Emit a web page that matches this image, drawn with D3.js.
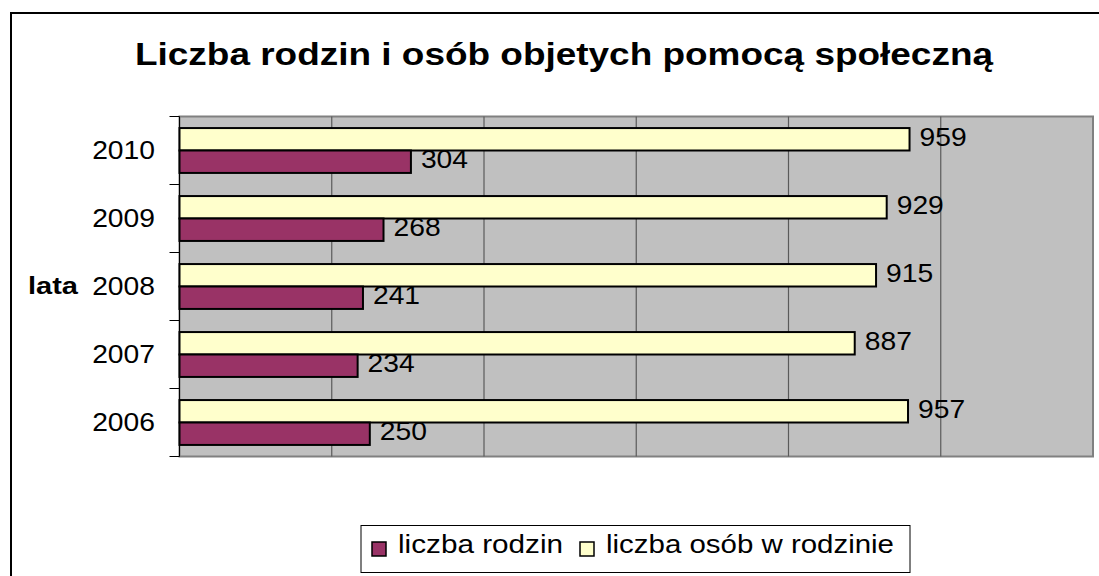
<!DOCTYPE html>
<html>
<head>
<meta charset="utf-8">
<script src="https://cdn.jsdelivr.net/npm/d3@7"></script>
<style>
  body { margin: 0; background: #fff; }
  svg { font-family: "Liberation Sans", Arial, sans-serif; }
</style>
</head>
<body>
<svg id="chart" width="1099" height="576"></svg>
<script>
const years = ["2006", "2007", "2008", "2009", "2010"];
const rodziny = [250, 234, 241, 268, 304];
const osoby = [957, 887, 915, 929, 959];
const seriesNames = ["liczba osób w rodzinie", "liczba rodzin"];
const seriesColors = ["#FFFFCC", "#993366"];
const xMax = 1200;

const data = years.map((y, i) => ({ year: y, values: [osoby[i], rodziny[i]] }));

const svg = d3.select("#chart");

// tekst w Excelu jest trochę szerszy - rozciągamy
function stretch(sel, f) {
  sel.each(function () {
    const w = this.getComputedTextLength();
    d3.select(this).attr("textLength", w * f).attr("lengthAdjust", "spacingAndGlyphs");
  });
}

// ramka całego wykresu
svg.append("rect")
  .attr("x", 11).attr("y", 13)
  .attr("width", 1110).attr("height", 600)
  .attr("fill", "#fff")
  .attr("stroke", "#000")
  .attr("stroke-width", 2);

svg.append("text")
  .attr("x", 564).attr("y", 65)
  .attr("text-anchor", "middle")
  .style("font-size", "31px")
  .style("font-weight", "bold")
  .attr("textLength", 858)
  .attr("lengthAdjust", "spacingAndGlyphs")
  .text("Liczba rodzin i osób objetych pomocą społeczną");

const plotL = 179.5, plotR = 1093, plotT = 116.5, plotB = 456.5;

const x = d3.scaleLinear().domain([0, xMax]).range([plotL, plotR]);
const y = d3.scaleBand()
  .domain(years.slice().reverse())
  .range([plotT, plotB])
  .paddingInner(0.34)
  .paddingOuter(0.17);
const band = d3.scaleBand()
  .domain(years.slice().reverse())
  .range([plotT, plotB]);
const ySub = d3.scaleBand().domain([0, 1]).range([0, y.bandwidth()]);

// tło obszaru kreślenia
svg.append("rect")
  .attr("x", plotL).attr("y", plotT)
  .attr("width", plotR - plotL).attr("height", plotB - plotT)
  .attr("fill", "#C0C0C0")
  .attr("stroke", "#808080")
  .attr("stroke-width", 2);

// linie siatki
svg.append("g")
  .selectAll("line")
  .data(x.ticks(6).filter(v => v > 0 && v < xMax))
  .join("line")
  .attr("x1", d => x(d)).attr("x2", d => x(d))
  .attr("y1", plotT).attr("y2", plotB)
  .attr("stroke", "#5a5a5a")
  .attr("stroke-width", 1.2);

// oś Y: znaczniki na granicach kategorii
const bounds = band.domain().map(d => band(d)).concat([plotB]);
svg.append("g")
  .selectAll("line")
  .data(bounds)
  .join("line")
  .attr("x1", plotL - 10).attr("x2", plotL)
  .attr("y1", d => d).attr("y2", d => d)
  .attr("stroke", "#000")
  .attr("stroke-width", 1);
svg.append("line")
  .attr("x1", plotL).attr("x2", plotL)
  .attr("y1", plotT).attr("y2", plotB)
  .attr("stroke", "#000");

svg.append("g")
  .selectAll("text")
  .data(years)
  .join("text")
  .attr("x", 155)
  .attr("y", d => band(d) + band.bandwidth() / 2)
  .attr("dy", "0.35em")
  .attr("text-anchor", "end")
  .style("font-size", "25px")
  .text(d => d)
  .call(stretch, 1.13);

svg.append("text")
  .attr("x", 28).attr("y", 294)
  .style("font-size", "24.5px")
  .style("font-weight", "bold")
  .attr("textLength", 50)
  .attr("lengthAdjust", "spacingAndGlyphs")
  .text("lata");

// słupki
const groups = svg.append("g")
  .selectAll("g")
  .data(data)
  .join("g")
  .attr("transform", d => `translate(0,${y(d.year)})`);

groups.selectAll("rect")
  .data(d => d.values)
  .join("rect")
  .attr("x", x(0))
  .attr("y", (d, i) => ySub(i))
  .attr("width", d => x(d) - x(0))
  .attr("height", ySub.bandwidth())
  .attr("fill", (d, i) => seriesColors[i])
  .attr("stroke", "#000")
  .attr("stroke-width", 2);

groups.selectAll("text")
  .data(d => d.values)
  .join("text")
  .attr("x", d => x(d) + 10)
  .attr("y", (d, i) => ySub(i) + ySub.bandwidth() / 2 - 2)
  .attr("dy", "0.35em")
  .style("font-size", "25px")
  .text(d => d)
  .call(stretch, 1.13);

// legenda
const legend = svg.append("g");
legend.append("rect")
  .attr("x", 361).attr("y", 525.5)
  .attr("width", 549).attr("height", 47)
  .attr("fill", "#fff")
  .attr("stroke", "#000")
  .attr("stroke-width", 1);

const legendItems = [
  { name: seriesNames[1], color: seriesColors[1], x: 372, w: 165 },
  { name: seriesNames[0], color: seriesColors[0], x: 580, w: 288 }
];
const li = legend.selectAll("g.item")
  .data(legendItems)
  .join("g")
  .attr("class", "item")
  .attr("transform", d => `translate(${d.x},542)`);
li.append("rect")
  .attr("width", 14).attr("height", 14)
  .attr("fill", d => d.color)
  .attr("stroke", "#000")
  .attr("stroke-width", 1.5);
li.append("text")
  .attr("x", 26).attr("y", 11)
  .style("font-size", "25px")
  .attr("textLength", d => d.w)
  .attr("lengthAdjust", "spacingAndGlyphs")
  .text(d => d.name);
</script>
</body>
</html>
